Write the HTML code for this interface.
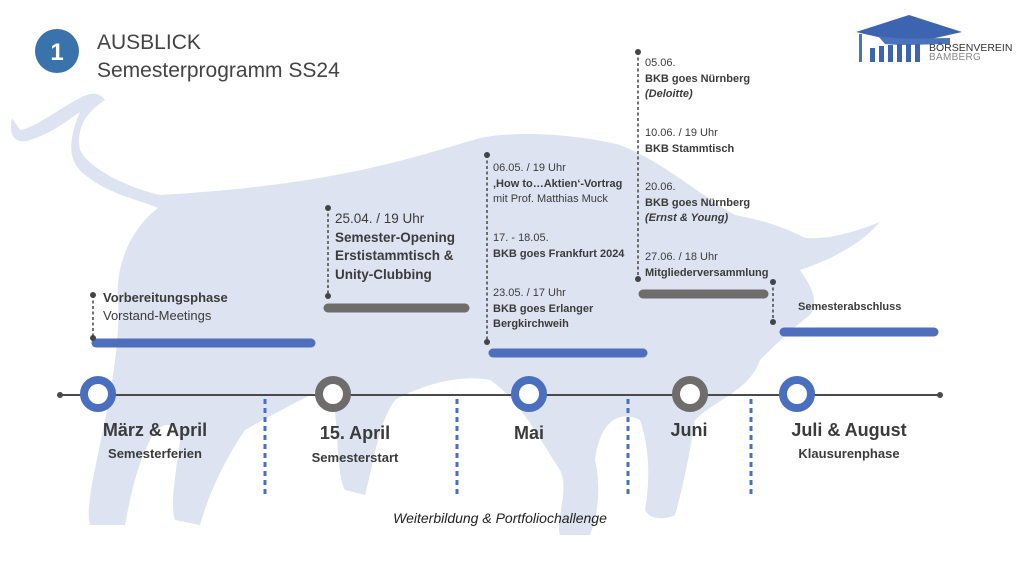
<!DOCTYPE html>
<html><head><meta charset="utf-8"><style>
body{margin:0;width:1024px;height:571px;background:#fff;overflow:hidden;position:relative;font-family:"Liberation Sans",sans-serif;color:#3b3b3b}
.t{position:absolute;white-space:nowrap}
.b{font-weight:bold}
</style></head><body>
<svg width="1024" height="571" style="position:absolute;left:0;top:0">
<path fill="#dde3f0" d="M12,118 C8,135 15,145 30,140 C55,132 70,118 80,112 C70,135 65,160 85,175 C110,195 140,200 158,208
C135,225 115,260 118,300 C120,330 115,370 105,420 C95,470 85,510 90,525 L125,525 C130,500 135,470 150,440 C160,420 175,420 180,440 C175,480 170,505 175,520 L200,525 C210,490 225,460 245,430
C280,410 330,385 330,385 C340,420 335,470 345,490 L365,495 C375,455 380,420 395,400 C430,380 470,375 490,380 C520,400 540,440 560,470 C570,490 555,520 560,535 L590,535 C600,510 600,480 595,460 C600,420 620,410 640,420 C650,450 650,480 645,510 C650,520 665,520 675,515 C685,480 690,450 695,420 C715,400 750,390 760,360
C775,345 790,330 810,315 C820,300 810,285 800,270 C830,260 860,245 880,222 C860,230 830,240 805,238 C780,225 760,220 735,215
C700,195 660,160 620,145 C580,135 520,130 480,138 C420,155 340,185 160,195 C130,188 90,170 80,150 C75,125 90,110 105,100 C100,92 90,92 80,98 C60,108 35,128 20,130 Z"/>
<line x1="60" y1="395" x2="940" y2="395" stroke="#4a4a4a" stroke-width="2"/>
<circle cx="60" cy="395" r="3" fill="#4a4a4a"/><circle cx="940" cy="395" r="3" fill="#4a4a4a"/>
<g fill="#fff" stroke-width="8">
<circle cx="98" cy="394" r="14" stroke="#4a6fbf"/>
<circle cx="333" cy="394" r="14" stroke="#6f6c6c"/>
<circle cx="529" cy="394" r="14" stroke="#4a6fbf"/>
<circle cx="690" cy="394" r="14" stroke="#6f6c6c"/>
<circle cx="797" cy="394" r="14" stroke="#4a6fbf"/>
</g>
<g stroke="#4a6fbf" stroke-width="3" stroke-dasharray="5,4">
<line x1="265" y1="399" x2="265" y2="497"/><line x1="457" y1="399" x2="457" y2="497"/>
<line x1="628" y1="399" x2="628" y2="497"/><line x1="751" y1="399" x2="751" y2="497"/>
</g>
<g stroke-linecap="round" stroke-width="9">
<line x1="96" y1="343" x2="311" y2="343" stroke="#4f6fbe"/>
<line x1="328" y1="308" x2="465" y2="308" stroke="#6f6c6c"/>
<line x1="493" y1="353" x2="643" y2="353" stroke="#4f6fbe"/>
<line x1="643" y1="294" x2="764" y2="294" stroke="#6f6c6c"/>
<line x1="784" y1="332" x2="934" y2="332" stroke="#4f6fbe"/>
</g>
<g stroke="#444" stroke-width="1.5" stroke-dasharray="3,2.5" fill="#444">
<line x1="93" y1="295" x2="93" y2="338"/><line x1="328" y1="208" x2="328" y2="296"/>
<line x1="487" y1="155" x2="487" y2="342"/><line x1="638" y1="52" x2="638" y2="279"/>
<line x1="773" y1="282" x2="773" y2="322"/>
</g>
<g fill="#444">
<circle cx="93" cy="295" r="3"/><circle cx="93" cy="338" r="3"/>
<circle cx="328" cy="208" r="3"/><circle cx="328" cy="296" r="3"/>
<circle cx="487" cy="155" r="3"/><circle cx="487" cy="342" r="3"/>
<circle cx="638" cy="52" r="3"/><circle cx="638" cy="279" r="3"/>
<circle cx="773" cy="282" r="3"/><circle cx="773" cy="322" r="3"/>
</g>
<circle cx="57" cy="51" r="22" fill="#3a73ac"/>
<text x="57" y="60" text-anchor="middle" font-family="Liberation Sans" font-weight="bold" font-size="24" fill="#fff">1</text>
<polygon points="856,32 909,15 962,32 909,44" fill="#3d64b0"/>
<path d="M878,36 C900,40 925,38 950,38 L950,44 C925,44 905,46 885,44 Z" fill="#4a73bb"/>
<rect x="859" y="34" width="3" height="28" fill="#4a73bb"/>
<g fill="#3d64b0"><rect x="870" y="48" width="5" height="14"/><rect x="879" y="46" width="5" height="16"/><rect x="888" y="45" width="5" height="17"/><rect x="897" y="44" width="5" height="18"/><rect x="906" y="44" width="5" height="18"/><rect x="915" y="44" width="5" height="18"/></g>
</svg>
<div class="t" style="left:97px;top:31px;font-size:21px;color:#444">AUSBLICK</div>
<div class="t" style="left:97px;top:59px;font-size:21px;color:#444">Semesterprogramm SS24</div>
<div class="t" style="left:929px;top:42px;font-size:10.5px;color:#333">BÖRSENVEREIN</div>
<div class="t" style="left:929px;top:52px;font-size:10px;color:#888;letter-spacing:0.3px">BAMBERG</div>

<div class="t" style="left:103px;top:289px;font-size:13px;line-height:18px"><span class="b">Vorbereitungsphase</span><br>Vorstand-Meetings</div>
<div class="t" style="left:335px;top:210px;font-size:13.5px;line-height:18.5px">25.04. / 19 Uhr<br><span class="b">Semester-Opening<br>Erstistammtisch &amp;<br>Unity-Clubbing</span></div>
<div class="t" style="left:493px;top:161px;font-size:11px;line-height:15.5px">06.05. / 19 Uhr<br><span class="b">‚How to…Aktien‘-Vortrag</span><br>mit Prof. Matthias Muck</div>
<div class="t" style="left:493px;top:231px;font-size:11px;line-height:15.5px">17. - 18.05.<br><span class="b">BKB goes Frankfurt 2024</span></div>
<div class="t" style="left:493px;top:286px;font-size:11px;line-height:15.5px">23.05. / 17 Uhr<br><span class="b">BKB goes Erlanger<br>Bergkirchweih</span></div>
<div class="t" style="left:645px;top:56px;font-size:11px;line-height:15.5px">05.06.<br><span class="b">BKB goes Nürnberg<br><i>(Deloitte)</i></span></div>
<div class="t" style="left:645px;top:126px;font-size:11px;line-height:15.5px">10.06. / 19 Uhr<br><span class="b">BKB Stammtisch</span></div>
<div class="t" style="left:645px;top:180px;font-size:11px;line-height:15.5px">20.06.<br><span class="b">BKB goes Nürnberg<br><i>(Ernst &amp; Young)</i></span></div>
<div class="t" style="left:645px;top:250px;font-size:11px;line-height:15.5px">27.06. / 18 Uhr<br><span class="b">Mitgliederversammlung</span></div>
<div class="t b" style="left:798px;top:301px;font-size:11px">Semesterabschluss</div>

<div class="t b" style="left:155px;top:420px;font-size:18px;transform:translateX(-50%)">März &amp; April</div>
<div class="t b" style="left:155px;top:446px;font-size:13px;transform:translateX(-50%)">Semesterferien</div>
<div class="t b" style="left:355px;top:423px;font-size:18px;transform:translateX(-50%)">15. April</div>
<div class="t b" style="left:355px;top:450px;font-size:13px;transform:translateX(-50%)">Semesterstart</div>
<div class="t b" style="left:529px;top:423px;font-size:18px;transform:translateX(-50%)">Mai</div>
<div class="t b" style="left:689px;top:420px;font-size:18px;transform:translateX(-50%)">Juni</div>
<div class="t b" style="left:849px;top:420px;font-size:18px;transform:translateX(-50%)">Juli &amp; August</div>
<div class="t b" style="left:849px;top:446px;font-size:13px;transform:translateX(-50%)">Klausurenphase</div>
<div class="t" style="left:500px;top:510px;font-size:14px;font-style:italic;color:#222;transform:translateX(-50%)">Weiterbildung &amp; Portfoliochallenge</div>
</body></html>
